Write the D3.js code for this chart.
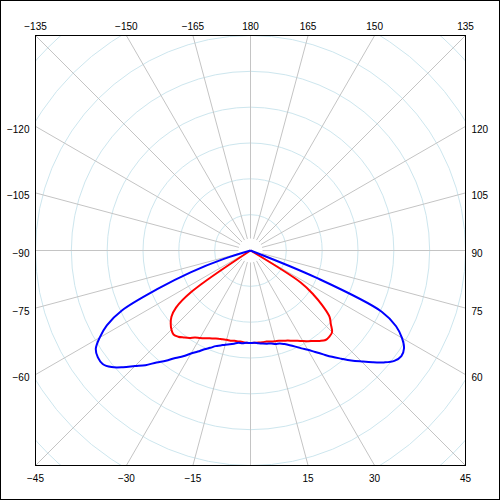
<!DOCTYPE html>
<html>
<meta charset="utf-8">
<style>
body { margin: 0; background: #fff; }
svg { display: block; }
.tick-label { font-family: 'Liberation Sans', Arial, sans-serif; font-size: 10px; fill: #000; }
</style>
<body>
<script src="https://cdn.jsdelivr.net/npm/d3@7"></script>
<script>
// gamma angles, degrees (0 = straight down)
var angles = d3.range(-90, 90.01, 2.5);

// luminous intensity, cd (C0-C180 plane in red, C90-C270 plane in blue)
var redValues = [
  0, 0, 0, 0, 0, 0, 0, 0, 0, 0, 0, 0, 0, 0,
  100, 131, 144, 151, 156, 159, 157, 153, 149, 144, 141, 138, 135, 133, 131, 130,
  129, 129, 128, 128, 128, 129, 129, 129, 129, 129, 129, 130, 131, 132, 134, 136,
  139, 142, 146, 150, 154, 159, 163, 163, 161, 152, 144, 127, 107, 83,
  0, 0, 0, 0, 0, 0, 0, 0, 0, 0, 0, 0, 0
];
var blueValues = [
  0, 0, 0, 0, 0, 0, 0,
  39, 89, 141, 198, 226, 243, 256, 260, 260, 253, 241, 228, 217, 204, 194, 183,
  175, 166, 159, 152, 147, 142, 139, 136, 134, 132, 130, 130, 129, 129, 129, 130,
  131, 132, 133, 135, 136, 139, 143, 148, 154, 160, 168, 177, 187, 197, 208, 219,
  231, 243, 253, 257, 254, 244, 229, 202, 100,
  0, 0, 0, 0, 0, 0, 0, 0, 0
];

var ringValues = [50, 100, 150, 200, 250, 300, 350, 400];
var spokeAngles = d3.range(0, 360, 15);

var topTicks = [-135, -150, -165, 180, 165, 150, 135];
var leftTicks = [-120, -105, -90, -75, -60];
var rightTicks = [120, 105, 90, 75, 60];
var bottomTicks = [-45, -30, -15, 15, 30, 45];

var w = 500, h = 500;
var cx = 250.5, cy = 250.5, half = 215;

var rScale = d3.scaleLinear().domain([0, 300]).range([0, half]);
var toRad = d3.scaleLinear().domain([0, 180]).range([0, Math.PI]);
var fmt = d3.format("d");

var svg = d3.select("body").append("svg")
    .attr("width", w)
    .attr("height", h);

// outer border
svg.append("rect")
    .attr("x", 0.5).attr("y", 0.5)
    .attr("width", w - 1).attr("height", h - 1)
    .attr("fill", "#fff").attr("stroke", "#000");

// clip rect sits in the plot group's coords (origin at centre)
svg.append("clipPath").attr("id", "plot-clip")
  .append("rect")
    .attr("x", -half).attr("y", -half)
    .attr("width", half * 2).attr("height", half * 2);

var plot = svg.append("g")
    .attr("transform", "translate(" + cx + "," + cy + ")")
    .attr("clip-path", "url(#plot-clip)");

// rings
plot.selectAll(".ring")
    .data(ringValues)
    .enter().append("circle")
    .attr("class", "ring")
    .attr("r", function(d) { return rScale(d); })
    .attr("fill", "none")
    .attr("stroke", "#cde6ee");

// spokes (x = r sin g, y = r cos g)
plot.selectAll(".spoke")
    .data(spokeAngles)
    .enter().append("line")
    .attr("class", "spoke")
    .attr("x1", function(d) { return 12 * Math.sin(toRad(d)); })
    .attr("y1", function(d) { return 12 * Math.cos(toRad(d)); })
    .attr("x2", function(d) { return 400 * Math.sin(toRad(d)); })
    .attr("y2", function(d) { return 400 * Math.cos(toRad(d)); })
    .attr("stroke", "#c4c4c4");

// curves
var line = d3.lineRadial()
    .angle(function(d) { return Math.PI - toRad(d[0]); })
    .radius(function(d) { return rScale(d[1]); })
    .curve(d3.curveCatmullRom.alpha(0.5));

var series = [
  { color: "#ff0000", values: redValues },
  { color: "#0000ff", values: blueValues }
];

plot.selectAll(".curve")
    .data(series)
    .enter().append("path")
    .attr("class", "curve")
    .attr("d", function(s) { return line(d3.zip(angles, s.values)); })
    .attr("fill", "none")
    .attr("stroke", function(s) { return s.color; })
    .attr("stroke-width", 2)
    .attr("stroke-linejoin", "round");

// frame
svg.append("rect")
    .attr("x", cx - half).attr("y", cy - half)
    .attr("width", half * 2).attr("height", half * 2)
    .attr("fill", "none").attr("stroke", "#000");

// where a spoke meets the frame
function edgePoint(d) {
  var s = Math.sin(toRad(d)), c = Math.cos(toRad(d));
  var t = half / Math.max(Math.abs(s), Math.abs(c));
  return [cx + t * s, cy + t * c];
}

svg.selectAll(".top-label")
    .data(topTicks)
    .enter().append("text")
    .attr("class", "tick-label")
    .attr("x", function(d) { return edgePoint(d)[0]; })
    .attr("y", 29.5)
    .attr("text-anchor", "middle")
    .text(fmt);

svg.selectAll(".bottom-label")
    .data(bottomTicks)
    .enter().append("text")
    .attr("class", "tick-label")
    .attr("x", function(d) { return edgePoint(d)[0]; })
    .attr("y", 482)
    .attr("text-anchor", "middle")
    .text(fmt);

svg.selectAll(".left-label")
    .data(leftTicks)
    .enter().append("text")
    .attr("class", "tick-label")
    .attr("x", cx - half - 6)
    .attr("y", function(d) { return edgePoint(d)[1] + 6.5; })
    .attr("text-anchor", "end")
    .text(fmt);

svg.selectAll(".right-label")
    .data(rightTicks)
    .enter().append("text")
    .attr("class", "tick-label")
    .attr("x", cx + half + 6)
    .attr("y", function(d) { return edgePoint(d)[1] + 6.5; })
    .attr("text-anchor", "start")
    .text(fmt);
</script>
</body>
</html>
